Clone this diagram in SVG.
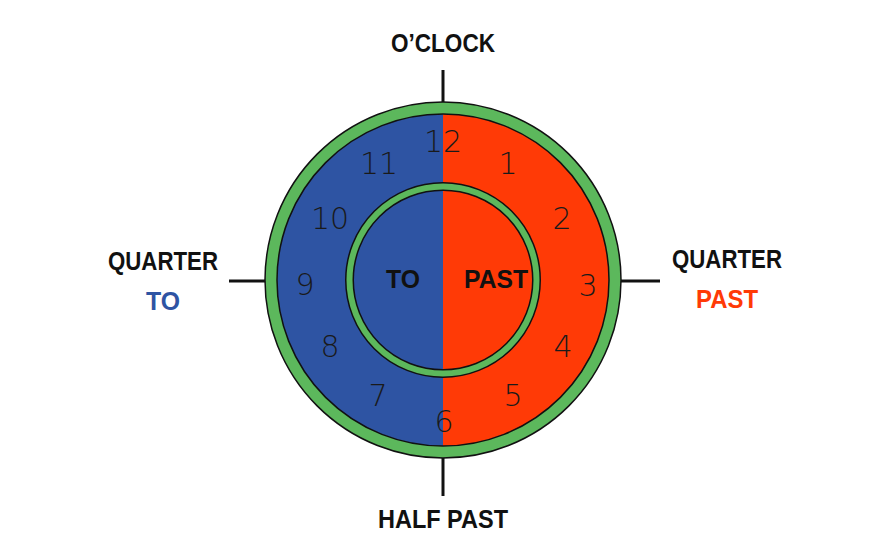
<svg xmlns="http://www.w3.org/2000/svg" width="880" height="540" viewBox="0 0 880 540">
<style>
.num{font-family:"DejaVu Sans",sans-serif;font-weight:300;font-size:30px;fill:#1a1a1a;text-anchor:middle}
.lbl{font-family:"Liberation Sans",sans-serif;font-weight:bold;font-size:26px;text-anchor:middle;fill:#111}
.tick{stroke:#111;stroke-width:3}
</style>
<rect width="880" height="540" fill="#fff"/>
<g id="connectors">
<line class="tick" x1="443" y1="70" x2="443" y2="102"/>
<line class="tick" x1="229" y1="281" x2="267" y2="281"/>
<line class="tick" x1="620" y1="281" x2="660" y2="281"/>
<line class="tick" x1="443" y1="458" x2="443" y2="496"/>
</g>
<g id="clock">
<circle cx="443" cy="280" r="178" fill="#5cb85c" stroke="#111" stroke-width="1.5"/>
<path d="M443 114 A166 166 0 0 0 443 446 Z" fill="#2e54a3"/>
<path d="M443 114 A166 166 0 0 1 443 446 Z" fill="#ff3a06"/>
<circle cx="443" cy="280" r="166" fill="none" stroke="#111" stroke-width="1.5"/>
<circle cx="443" cy="280" r="93.5" fill="none" stroke="#111" stroke-width="9"/>
<circle cx="443" cy="280" r="93.5" fill="none" stroke="#5cb85c" stroke-width="6"/>
<text class="num" x="443" y="152">12</text>
<text class="num" x="508" y="174">1</text>
<text class="num" x="562" y="229">2</text>
<text class="num" x="588" y="296">3</text>
<text class="num" x="563" y="357">4</text>
<text class="num" x="513" y="406">5</text>
<text class="num" x="444" y="432">6</text>
<text class="num" x="378" y="406">7</text>
<text class="num" x="330" y="357">8</text>
<text class="num" x="305" y="295">9</text>
<text class="num" x="330" y="229">10</text>
<text class="num" x="379" y="174">11</text>
<text class="lbl" x="403" y="288" textLength="34" lengthAdjust="spacingAndGlyphs">TO</text>
<text class="lbl" x="496" y="288" textLength="64" lengthAdjust="spacingAndGlyphs">PAST</text>
</g>
<g id="oclock"><text class="lbl" x="443" y="52" textLength="104" lengthAdjust="spacingAndGlyphs">O’CLOCK</text></g>
<g id="quarter-to"><text class="lbl" x="163" y="270" textLength="110" lengthAdjust="spacingAndGlyphs">QUARTER</text><text class="lbl" x="163" y="310" style="fill:#2e54a3" textLength="34" lengthAdjust="spacingAndGlyphs">TO</text></g>
<g id="quarter-past"><text class="lbl" x="727" y="268" textLength="110" lengthAdjust="spacingAndGlyphs">QUARTER</text><text class="lbl" x="727" y="308" style="fill:#ff3a06" textLength="62" lengthAdjust="spacingAndGlyphs">PAST</text></g>
<g id="half-past"><text class="lbl" x="443" y="528" textLength="130" lengthAdjust="spacingAndGlyphs">HALF PAST</text></g>
</svg>
